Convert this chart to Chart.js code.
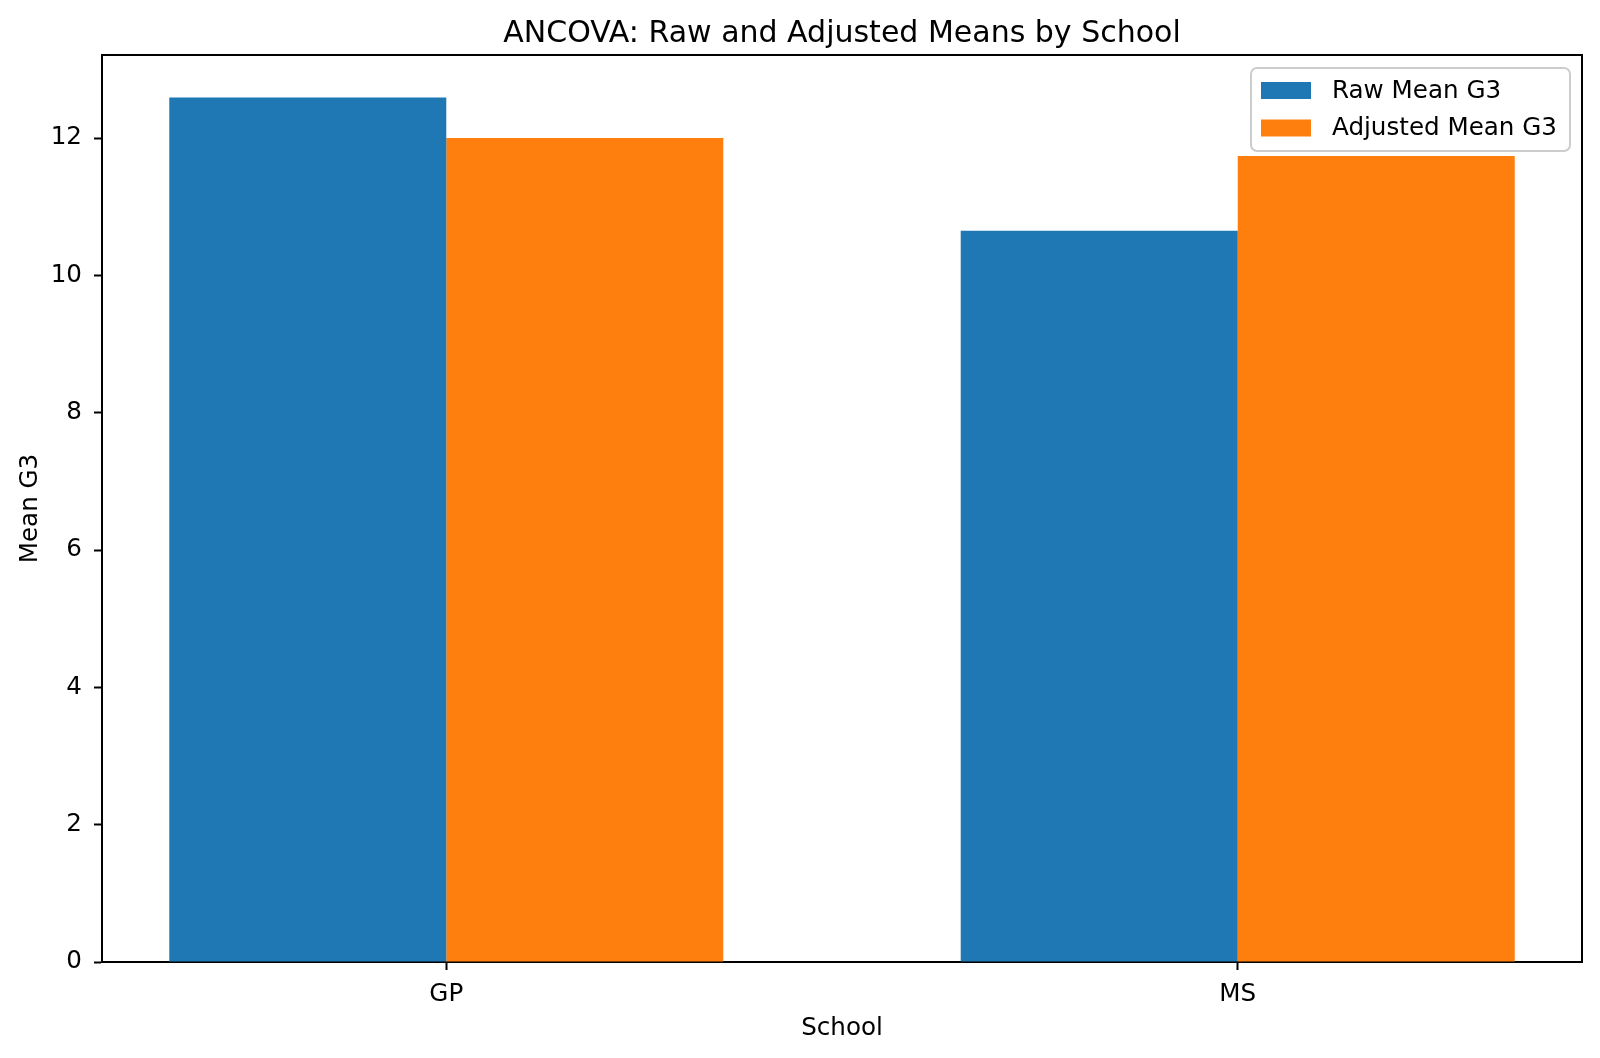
<!DOCTYPE html>
<html>
<head>
<meta charset="utf-8">
<script src="https://cdn.jsdelivr.net/npm/chart.js@4.4.0/dist/chart.umd.min.js"></script>
<style>
  html, body { margin: 0; padding: 0; background: #fff; }
  #wrap { width: 1600px; height: 1058px; }
</style>
</head>
<body>
<div id="wrap"><canvas id="chart"></canvas></div>
<script>
const schools      = ["GP", "MS"]
const rawMean      = [12.59, 10.65]
const adjustedMean = [12.00, 11.74]
const yTicks       = [0, 2, 4, 6, 8, 10, 12]

const FONT = "'DejaVu Sans', sans-serif"

// top/right spines, matplotlib style
const frame = {
  id: "frame",
  afterDatasetsDraw(chart) {
    const { ctx, chartArea: a } = chart
    ctx.save()
    ctx.strokeStyle = "#000"
    ctx.lineWidth = 2
    ctx.beginPath()
    ctx.moveTo(a.left, a.top)
    ctx.lineTo(a.right, a.top)
    ctx.lineTo(a.right, a.bottom)
    ctx.stroke()
    ctx.restore()
  }
}

// legend box in the upper right of the axes
const boxLegend = {
  id: "boxLegend",
  afterDraw(chart) {
    const { ctx } = chart
    const x = 1251, y = 68, w = 319, h = 83, r = 6
    ctx.save()
    ctx.beginPath()
    ctx.roundRect(x, y, w, h, r)
    ctx.fillStyle = "rgba(255,255,255,0.8)"
    ctx.fill()
    ctx.strokeStyle = "#cccccc"
    ctx.lineWidth = 2
    ctx.stroke()
    ctx.font = "24.6px " + FONT
    ctx.textBaseline = "middle"
    chart.data.datasets.forEach((ds, i) => {
      const cy = 90.5 + i * 37.5
      ctx.fillStyle = ds.backgroundColor
      ctx.fillRect(1261, cy - 8.5, 50, 17)
      ctx.fillStyle = "#000"
      ctx.fillText(ds.label, 1332, cy + 1)
    })
    ctx.restore()
  }
}

Chart.defaults.color = "#000"
Chart.defaults.font.family = FONT

new Chart(document.getElementById("chart"), {
  type: "bar",
  data: {
    datasets: [
      {
        label: "Raw Mean G3",
        data: rawMean.map((v, i) => ({ x: i, y: v })),
        backgroundColor: "#1f77b4",
        borderWidth: 0
      },
      {
        label: "Adjusted Mean G3",
        data: adjustedMean.map((v, i) => ({ x: i, y: v })),
        backgroundColor: "#ff7f0e",
        borderWidth: 0
      }
    ]
  },
  options: {
    responsive: true,
    maintainAspectRatio: false,
    animation: false,
    categoryPercentage: 0.7,
    barPercentage: 1.0,
    layout: { padding: { left: 0, right: 18, top: 0, bottom: 0 } },
    plugins: {
      legend: { display: false },
      tooltip: { enabled: false },
      title: {
        display: true,
        fullSize: false,
        text: "ANCOVA: Raw and Adjusted Means by School",
        font: { size: 30, weight: "normal", family: FONT },
        color: "#000",
        padding: { top: 16, bottom: 3 }
      }
    },
    scales: {
      x: {
        type: "linear",
        min: -0.435,
        max: 1.435,
        offset: false,
        afterBuildTicks: (scale) => { scale.ticks = schools.map((s, i) => ({ value: i })) },
        afterFit: (scale) => { scale.height = 96 },
        ticks: {
          font: { size: 24.6 },
          padding: 10,
          maxRotation: 0,
          callback: (v) => schools[v]
        },
        grid: { display: true, offset: false, drawOnChartArea: false, drawTicks: true, tickLength: 8, tickWidth: 2, tickColor: "#000" },
        border: { display: true, color: "#000", width: 2 },
        title: { display: true, text: "School", font: { size: 24.6 }, padding: { top: 0, bottom: 15 } }
      },
      y: {
        min: 0,
        max: 13.21,
        afterBuildTicks: (scale) => { scale.ticks = yTicks.map((v) => ({ value: v })) },
        afterFit: (scale) => { scale.width = 102 },
        ticks: { font: { size: 24.6 }, padding: 12 },
        grid: { display: true, drawOnChartArea: false, drawTicks: true, tickLength: 8, tickWidth: 2, tickColor: "#000" },
        border: { display: true, color: "#000", width: 2 },
        title: { display: true, text: "Mean G3", font: { size: 24.6 }, padding: { top: 16, bottom: 0 } }
      }
    }
  },
  plugins: [frame, boxLegend]
})
</script>
</body>
</html>
